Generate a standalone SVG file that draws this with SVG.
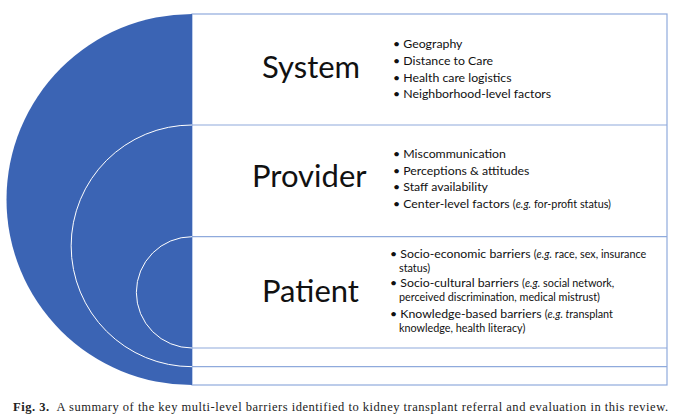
<svg xmlns="http://www.w3.org/2000/svg" width="680" height="420" viewBox="0 0 680 420">
<style>
.box{fill:#ffffff;stroke:#8faadc;stroke-width:1.2}
.arc{fill:none;stroke:#ffffff;stroke-width:1}
.title{font-family:"Lato","Open Sans",sans-serif;font-size:31px;fill:#111}
.item{font-family:"Lato","Open Sans",sans-serif;font-size:12.3px;fill:#111}
.sm{font-size:10.8px}
.it{font-style:italic}
.cap{font-family:"Liberation Serif","Times New Roman",serif;font-size:12.5px;fill:#222}
</style>
<rect width="680" height="420" fill="#ffffff"/>
<g id="frame">
<rect class="box" x="192" y="14" width="475" height="371"/>
<line class="box" x1="192" y1="366.7" x2="667" y2="366.7"/>
<line class="box" x1="192" y1="348" x2="667" y2="348"/>
</g>
<g id="disk">
<path d="M192,14 A185.5,185.5 0 0 0 192,385 Z" fill="#3b64b4"/>
<path class="arc" d="M192,125 A120.85,120.85 0 0 0 192,366.7"/>
<path class="arc" d="M192,236.7 A55.65,55.65 0 0 0 192,348"/>
</g>
<g id="system">
<line class="box" x1="192" y1="125" x2="667" y2="125"/>
<text class="title" x="262" y="78">System</text>
<text class="item" x="393" y="48">• Geography</text>
<text class="item" x="393" y="65">• Distance to Care</text>
<text class="item" x="393" y="82">• Health care logistics</text>
<text class="item" x="393" y="98">• Neighborhood-level factors</text>
</g>
<g id="provider">
<line class="box" x1="192" y1="236.7" x2="667" y2="236.7"/>
<text class="title" x="252" y="187">Provider</text>
<text class="item" x="393" y="158">• Miscommunication</text>
<text class="item" x="393" y="175">• Perceptions &amp; attitudes</text>
<text class="item" x="393" y="191">• Staff availability</text>
<text class="item" x="393" y="208">• Center-level factors <tspan class="sm">(<tspan class="it">e.g.</tspan> for-profit status)</tspan></text>
</g>
<g id="patient">
<text class="title" x="262" y="302">Patient</text>
<text class="item" x="390" y="258">• Socio-economic barriers <tspan class="sm">(<tspan class="it">e.g.</tspan> race, sex, insurance</tspan></text>
<text class="item sm" x="399" y="272">status)</text>
<text class="item" x="390" y="287">• Socio-cultural barriers <tspan class="sm">(<tspan class="it">e.g.</tspan> social network,</tspan></text>
<text class="item sm" x="399" y="301">perceived discrimination, medical mistrust)</text>
<text class="item" x="390" y="318">• Knowledge-based barriers <tspan class="sm">(<tspan class="it">e.g. t</tspan>ransplant</tspan></text>
<text class="item sm" x="399" y="332">knowledge, health literacy)</text>
</g>
<g id="caption">
<text class="cap" x="13" y="411" textLength="655" lengthAdjust="spacing"><tspan font-weight="bold">Fig. 3.</tspan><tspan dx="4"> A summary of the key multi-level barriers identified to kidney transplant referral and evaluation in this review.</tspan></text>
</g>
</svg>
